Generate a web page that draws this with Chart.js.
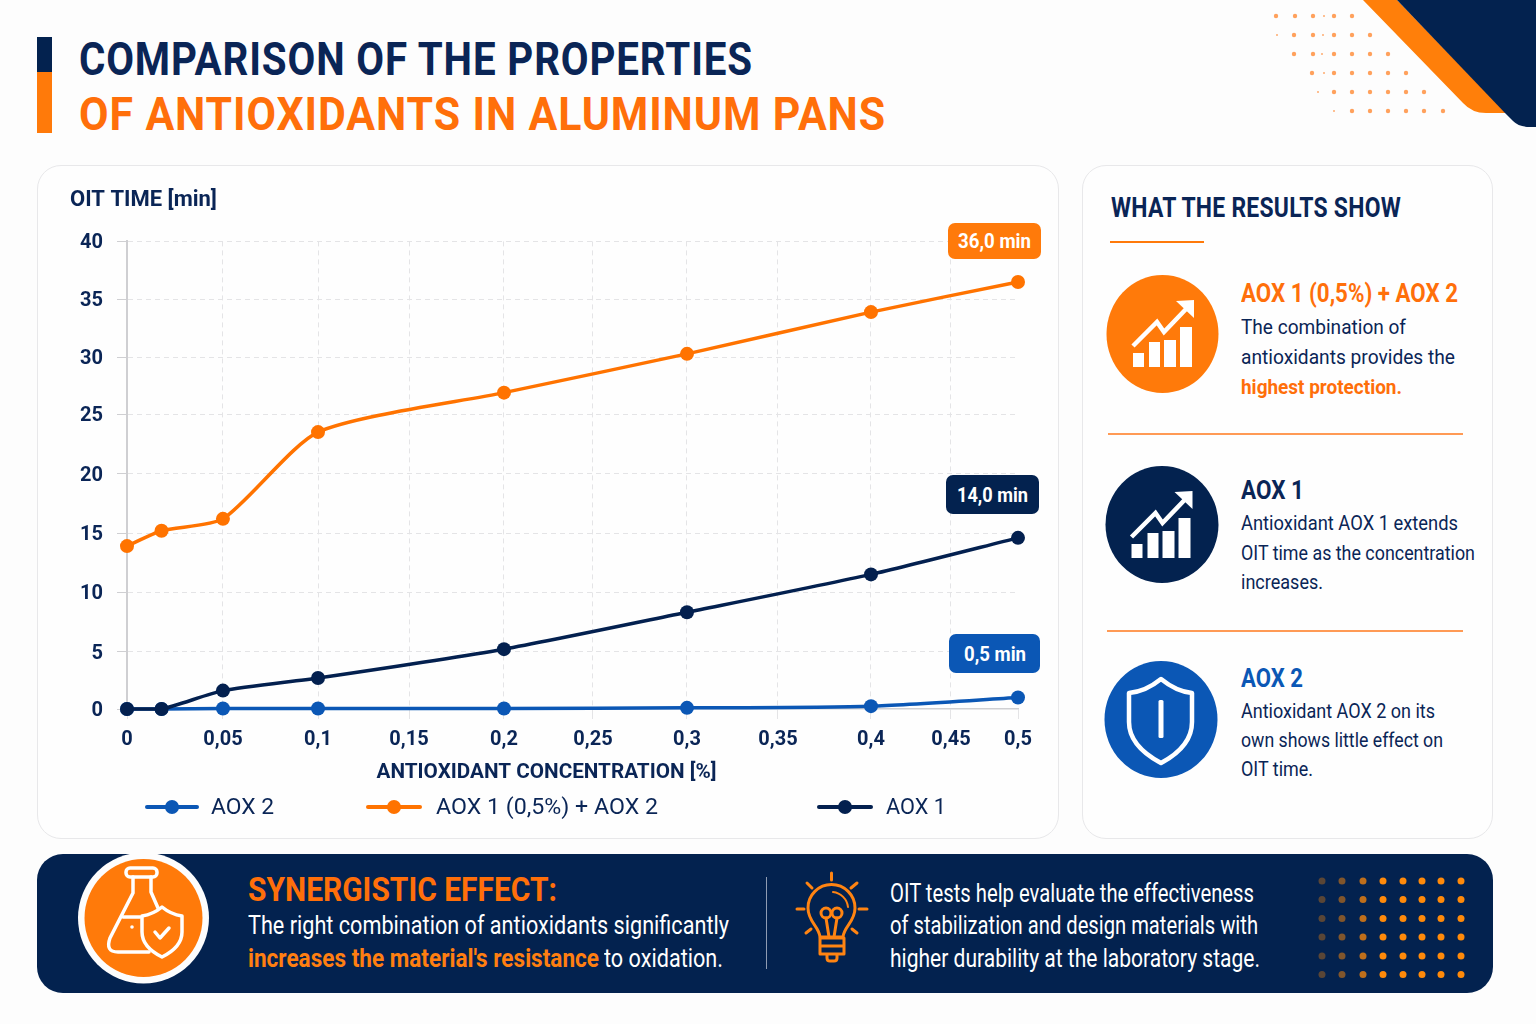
<!DOCTYPE html>
<html lang="en">
<head>
<meta charset="utf-8">
<title>Comparison of the properties of antioxidants in aluminum pans</title>
<script src="https://cdn.jsdelivr.net/npm/chart.js@4/dist/chart.umd.js"></script>
<style>
    html, body { margin: 0; padding: 0; }
    body { position: relative; width: 1536px; height: 1024px; overflow: hidden; background: #fdfdfd; font-family: Roboto, sans-serif; color: #0a2556; }
    .box { position: absolute; box-sizing: border-box; }
    .card { background: #fefefe; border: 1.5px solid #e8e8ea; border-radius: 24px; }
    .t { position: absolute; white-space: nowrap; line-height: 0; height: 0; transform-origin: 0 0; }
    .b { font-weight: 700; }
    .h1 { font-size: 47px; font-weight: 700; letter-spacing: 1px; }
    .h2 { font-size: 27px; font-weight: 700; letter-spacing: 0.3px; }
    .h3 { font-size: 26px; font-weight: 700; }
    .p { font-size: 21px; }
    .hb { font-size: 33px; font-weight: 700; }
    .pb { font-size: 25px; color: #fff; }
    .orange { color: #ff6f0a; }
    .navy { color: #0a2556; }
    .blue { color: #0b57b5; }
    .pill { border-radius: 7px; }
    .pill-t { font-size: 20px; font-weight: 700; color: #fff; }
    .legend-t { font-size: 22px; }
    svg.over { position: absolute; left: 0; top: 0; pointer-events: none; }
    canvas { position: absolute; left: 38px; top: 166px; }
</style>
</head>
<body>

<!-- header -->
<div class="box" style="left:37px;top:37px;width:15px;height:35px;background:#03224f"></div>
<div class="box" style="left:37px;top:72px;width:15px;height:61px;background:#ff7a0a"></div>
<span class="t h1 navy" style="left:79px;top:59px" data-w="674">COMPARISON OF THE PROPERTIES</span>
<span class="t h1 orange" style="left:79px;top:114px" data-w="807">OF ANTIOXIDANTS IN ALUMINUM PANS</span>

<!-- cards -->
<div class="box card" style="left:37px;top:165px;width:1022px;height:674px"></div>
<div class="box card" style="left:1082px;top:165px;width:411px;height:674px"></div>
<canvas id="oitChart" width="1020" height="672"></canvas>

<!-- value badges -->
<div class="box pill" id="badge0" style="left:948px;top:223px;width:93px;height:36px;background:#ff7a0a"></div>
<span class="t pill-t" id="badgeText0" style="left:958px;top:241px" data-w="73"></span>
<div class="box pill" id="badge1" style="left:946px;top:475px;width:93px;height:39px;background:#03224f"></div>
<span class="t pill-t" id="badgeText1" style="left:957px;top:495px" data-w="71"></span>
<div class="box pill" id="badge2" style="left:949px;top:634px;width:91px;height:39px;background:#0b57b5"></div>
<span class="t pill-t" id="badgeText2" style="left:964px;top:654px" data-w="62"></span>

<!-- legend -->
<div id="legend"></div>

<!-- results panel -->
<span class="t h2 navy" style="left:1111px;top:208px" data-w="290">WHAT THE RESULTS SHOW</span>
<div class="box" style="left:1110px;top:241px;width:94px;height:2px;background:#ff7a0a"></div>

<span class="t h3 orange" style="left:1241px;top:293px" data-w="217">AOX 1 (0,5%) + AOX 2</span>
<span class="t p" style="left:1241px;top:327px" data-w="165">The combination of</span>
<span class="t p" style="left:1241px;top:357px" data-w="214">antioxidants provides the</span>
<span class="t p b orange" style="left:1241px;top:387px" data-w="161">highest protection.</span>
<div class="box" style="left:1108px;top:433px;width:355px;height:1.5px;background:#ff9a55"></div>

<span class="t h3 navy" style="left:1241px;top:490px" data-w="63">AOX 1</span>
<span class="t p" style="left:1241px;top:523px" data-w="217">Antioxidant AOX 1 extends</span>
<span class="t p" style="left:1241px;top:553px" data-w="234">OIT time as the concentration</span>
<span class="t p" style="left:1241px;top:582px" data-w="82">increases.</span>
<div class="box" style="left:1107px;top:630px;width:356px;height:1.5px;background:#ff9a55"></div>

<span class="t h3 blue" style="left:1241px;top:678px" data-w="62">AOX 2</span>
<span class="t p" style="left:1241px;top:711px" data-w="194">Antioxidant AOX 2 on its</span>
<span class="t p" style="left:1241px;top:740px" data-w="202">own shows little effect on</span>
<span class="t p" style="left:1241px;top:769px" data-w="72">OIT time.</span>

<!-- bottom banner -->
<div class="box" style="left:37px;top:854px;width:1456px;height:139px;border-radius:26px;background:#03224f"></div>
<span class="t hb orange" style="left:248px;top:890px" data-w="309">SYNERGISTIC EFFECT:</span>
<span class="t pb" style="left:248px;top:926px" data-w="481">The right combination of antioxidants significantly</span>
<span class="t pb b orange" style="left:248px;top:959px;color:#ff7f11" data-w="351">increases the material's resistance</span>
<span class="t pb" style="left:604px;top:959px" data-w="119">to oxidation.</span>
<div class="box" style="left:766px;top:877px;width:1px;height:92px;background:#8f9cb3"></div>
<span class="t pb" style="left:890px;top:894px" data-w="364">OIT tests help evaluate the effectiveness</span>
<span class="t pb" style="left:890px;top:926px" data-w="368">of stabilization and design materials with</span>
<span class="t pb" style="left:890px;top:959px" data-w="370">higher durability at the laboratory stage.</span>

<!-- decoration and icons -->
<svg class="over" width="1536" height="1024" viewBox="0 0 1536 1024">
    <defs>
        <g id="growth">
            <rect x="-29.5" y="19" width="11" height="14" fill="#fff"/>
            <rect x="-13.5" y="8" width="11" height="25" fill="#fff"/>
            <rect x="1.5" y="6" width="12" height="27" fill="#fff"/>
            <rect x="17.5" y="-7" width="12" height="40" fill="#fff"/>
            <polyline points="-29.5,12 -5.5,-12 1.5,-2 24.5,-26" fill="none" stroke="#fff" stroke-width="4.5"/>
            <polygon points="13.5,-33 31.5,-34 31.5,-16" fill="#fff"/>
        </g>
    </defs>

    <path d="M1363 0 L1463 103 Q1472 113 1486 113 L1506 113 L1397 0 Z" fill="#ff7f0a"/>
    <path d="M1397 0 L1505 113 L1513 121 Q1519 127 1530 127 L1536 127 L1536 0 Z" fill="#03224f"/>
    <g id="cornerDots" fill="#ff8a33"></g>

    <ellipse cx="1162.5" cy="334" rx="56" ry="59" fill="#ff7a0a"/>
    <use href="#growth" x="1162.5" y="334"/>
    <ellipse cx="1162" cy="524.5" rx="56.5" ry="58.5" fill="#03224f"/>
    <use href="#growth" x="1161" y="525"/>
    <ellipse cx="1161" cy="719.5" rx="56.5" ry="58.5" fill="#0b57b5"/>
    <path d="M1161 679 C1172 688 1182 692 1192 693 V722 C1192 742 1176 755 1161 763 C1146 755 1129 742 1129 722 V693 C1140 692 1150 688 1161 679 Z" fill="none" stroke="#fff" stroke-width="4.5" stroke-linejoin="round"/>
    <rect x="1158.5" y="700" width="5" height="38" rx="1.5" fill="#fff"/>

    <circle cx="143.5" cy="918" r="65.5" fill="#fdfdfd"/>
    <circle cx="143.5" cy="918" r="59" fill="#ff7a0a"/>
    <g fill="none" stroke="#fff" stroke-width="3.5" stroke-linecap="round" stroke-linejoin="round">
        <rect x="126" y="868" width="31" height="9" rx="4"/>
        <path d="M133 877 V893 L110 938 Q105 952 118 952 H149"/>
        <path d="M151 877 V892 L158 908"/>
        <path d="M123 917 H140"/>
        <path d="M162 907 C168 912 175 915 182 916 V932 C182 944 172 952 162 957 C152 952 142 944 142 932 V916 C149 915 156 912 162 907 Z" fill="#ff7a0a"/>
        <path d="M155 932 L160 938 L169 928"/>
    </g>
    <circle cx="132" cy="927" r="1.8" fill="#fff"/>

    <g fill="none" stroke="#ff8412" stroke-width="3" stroke-linecap="round" stroke-linejoin="round">
        <path d="M820 937 C819 926 808 922 808 908 A23.5 23.5 0 0 1 855 908 C855 922 844 926 843 937 Z"/>
        <path d="M833 892 A17 17 0 0 1 848 907" stroke-width="2"/>
        <circle cx="826" cy="913" r="5"/>
        <circle cx="837" cy="913" r="5"/>
        <path d="M826 918 L829 937 M837 918 L834 937"/>
        <path d="M820 938 H844 M820 946 H844 M821 954 H843 M820 938 V954 M844 938 V954"/>
        <path d="M827 955 V958 Q827 961 830 961 H834 Q837 961 837 958 V955"/>
        <path d="M831.5 873 V880 M807 883 L812 888 M857 883 L851 888 M797 909 H804 M859 909 H867 M806 933 L811 929 M857 933 L852 929"/>
    </g>
    <g id="bannerDots" fill="#ff8a0a"></g>
</svg>

<script>
// =============================================================================
// CHART DATA
// =============================================================================

const concentrations = [0, 0.018, 0.05, 0.1, 0.2, 0.3, 0.4, 0.5];
const aox2Values = [0, 0, 0.05, 0.05, 0.05, 0.1, 0.25, 1.0];
const comboValues = [13.9, 15.2, 16.2, 23.5, 26.9, 30.3, 33.9, 36.5];
const aox1Values = [0, 0, 1.6, 2.7, 5.2, 8.3, 11.5, 14.6];
const seriesNames = ['AOX 2', 'AOX 1 (0,5%) + AOX 2', 'AOX 1'];
const badgeLabels = ['36,0 min', '14,0 min', '0,5 min'];

const colors = {
    blue: '#0b57b5',
    orange: '#ff7300',
    navy: '#03204f',
    text: '#0a2556',
    grid: '#e4e4e6',
    axis: '#cfcfd2'
};

// The printed axes are not evenly spaced, so each scale gets its tick fractions
const axisStretch = {
    x: [0, 0.1077, 0.2144, 0.3165, 0.4231, 0.523, 0.6285, 0.7306, 0.835, 0.9248, 1],
    y: [0, 0.1229, 0.25, 0.3761, 0.5032, 0.6303, 0.7521, 0.8761, 1]
};

// =============================================================================
// SCALE
// =============================================================================

class StretchedScale extends Chart.LinearScale {
    getPixelForValue(value) {
        const stops = axisStretch[this.axis];
        const t = (value - this.min) / (this.max - this.min) * (stops.length - 1);
        const i = Math.max(0, Math.min(stops.length - 2, Math.floor(t)));
        return this.getPixelForDecimal(stops[i] + (stops[i + 1] - stops[i]) * (t - i));
    }

    drawTitle(chartArea) {
        // axis title sits left of the plot centre in the original
        this.ctx.save();
        this.ctx.translate(-26, 0);
        super.drawTitle(chartArea);
        this.ctx.restore();
    }
}
StretchedScale.id = 'stretched';
StretchedScale.defaults = {};
Chart.register(StretchedScale);

function seriesPoints(values) {
    return values.map((v, i) => ({ x: concentrations[i], y: v }));
}

function lineDataset(label, values, color, order) {
    return {
        label: label,
        data: seriesPoints(values),
        borderColor: color,
        backgroundColor: color,
        borderWidth: 3.5,
        pointRadius: 7,
        pointBorderWidth: 0,
        tension: 0.22,
        clip: false,
        order: order
    };
}

// =============================================================================
// CHART
// =============================================================================

const tickFont = { family: 'Roboto', size: 20, weight: '700' };

const oitChart = new Chart(document.getElementById('oitChart'), {
    type: 'line',
    data: {
        datasets: [
            lineDataset(seriesNames[0], aox2Values, colors.blue, 3),
            lineDataset(seriesNames[1], comboValues, colors.orange, 2),
            lineDataset(seriesNames[2], aox1Values, colors.navy, 1)
        ]
    },
    options: {
        responsive: false,
        animation: false,
        events: [],
        layout: { padding: { left: 32, right: 40, top: 8, bottom: 53 } },
        plugins: {
            legend: { display: false },
            tooltip: { enabled: false },
            title: {
                display: true,
                text: 'OIT TIME [min]',
                align: 'start',
                color: colors.text,
                font: { family: 'Roboto', size: 22, weight: '700' },
                padding: { top: 13, bottom: 28 }
            }
        },
        scales: {
            x: {
                type: 'stretched',
                min: 0,
                max: 0.5,
                afterFit: (scale) => { scale.height = 76; },
                title: {
                    display: true,
                    text: 'ANTIOXIDANT CONCENTRATION [%]',
                    color: colors.text,
                    font: { family: 'Roboto', size: 20.7, weight: '700', lineHeight: 1.2 },
                    padding: 0
                },
                grid: {
                    color: (ctx) => (ctx.tick && ctx.tick.value > 0.001 && ctx.tick.value < 0.499 ? colors.grid : 'transparent'),
                    tickColor: colors.grid,
                    tickBorderDash: [],
                    tickLength: 10
                },
                border: { display: true, color: colors.axis, width: 1.5, dash: [5, 4] },
                ticks: {
                    stepSize: 0.05,
                    autoSkip: false,
                    maxRotation: 0,
                    padding: 9,
                    color: colors.text,
                    font: tickFont,
                    callback: (v) => String(+v.toFixed(2)).replace('.', ',')
                }
            },
            y: {
                type: 'stretched',
                min: 0,
                max: 40,
                afterFit: (scale) => { scale.width = 57; },
                grid: {
                    color: (ctx) => (ctx.tick && ctx.tick.value > 0 ? colors.grid : 'transparent'),
                    tickColor: colors.axis,
                    tickBorderDash: [],
                    tickLength: 10
                },
                border: { display: true, color: colors.axis, width: 2, dash: [5, 4] },
                ticks: {
                    stepSize: 5,
                    padding: 14,
                    labelOffset: 2,
                    color: colors.text,
                    font: tickFont
                }
            }
        }
    }
});

// =============================================================================
// PAGE HELPERS
// =============================================================================

// Legend spacing in the original is uneven, so it is laid out by hand
const legendSlots = [
    { line: 145, width: 54, text: 211, textWidth: 63 },
    { line: 366, width: 56, text: 436, textWidth: 222 },
    { line: 817, width: 56, text: 886, textWidth: 60 }
];

function buildLegend() {
    const host = document.getElementById('legend');
    oitChart.data.datasets.forEach((ds, i) => {
        const slot = legendSlots[i];
        host.insertAdjacentHTML('beforeend',
            `<div class="box" style="left:${slot.line}px;top:805px;width:${slot.width}px;height:3.5px;border-radius:2px;background:${ds.borderColor}"></div>` +
            `<div class="box" style="left:${slot.line + slot.width / 2 - 7}px;top:800px;width:14px;height:14px;border-radius:50%;background:${ds.borderColor}"></div>` +
            `<span class="t legend-t" style="left:${slot.text}px;top:807px" data-w="${slot.textWidth}">${ds.label}</span>`);
    });
}

function buildBadges() {
    badgeLabels.forEach((label, i) => {
        document.getElementById('badgeText' + i).textContent = label;
    });
}

function addDots(hostId, rows) {
    const host = document.getElementById(hostId);
    let out = '';
    rows.forEach((d) => {
        out += `<circle cx="${d[0]}" cy="${d[1]}" r="${d[2]}" opacity="${d[3]}"/>`;
    });
    host.innerHTML = out;
}

function cornerDotRows() {
    const rows = [];
    const grid = [
        [16, [1276, 1295, 1313, 1334, 1352], [1324]],
        [35, [1294, 1313, 1334, 1352, 1370], [1277, 1323]],
        [54, [1294, 1313, 1334, 1352, 1370, 1388], [1322]],
        [73, [1312, 1334, 1352, 1370, 1388, 1406], [1324]],
        [92, [1334, 1352, 1370, 1388, 1406, 1424], [1318]],
        [111, [1352, 1370, 1388, 1406, 1424, 1443], [1334]]
    ];
    grid.forEach(([y, big, small]) => {
        big.forEach((x) => rows.push([x, y, 2.2, 0.8]));
        small.forEach((x) => rows.push([x, y, 1, 0.7]));
    });
    return rows;
}

function bannerDotRows() {
    const rows = [];
    const xs = [1322, 1342, 1363, 1383, 1403, 1422, 1441, 1461];
    const ys = [881, 899.5, 918.5, 937, 956, 974.5];
    const fade = [0.35, 0.5, 0.75, 1, 1, 1, 1, 1];
    ys.forEach((y) => xs.forEach((x, i) => rows.push([x, y, 3.5, fade[i]])));
    return rows;
}

// Original type is a narrower cut of Roboto: squeeze each line to its printed width
function fitText() {
    document.querySelectorAll('.t[data-w]').forEach((el) => {
        const natural = el.getBoundingClientRect().width;
        el.style.transform = `scaleX(${el.dataset.w / natural})`;
    });
}

buildLegend();
buildBadges();
addDots('cornerDots', cornerDotRows());
addDots('bannerDots', bannerDotRows());
fitText();
</script>
</body>
</html>
